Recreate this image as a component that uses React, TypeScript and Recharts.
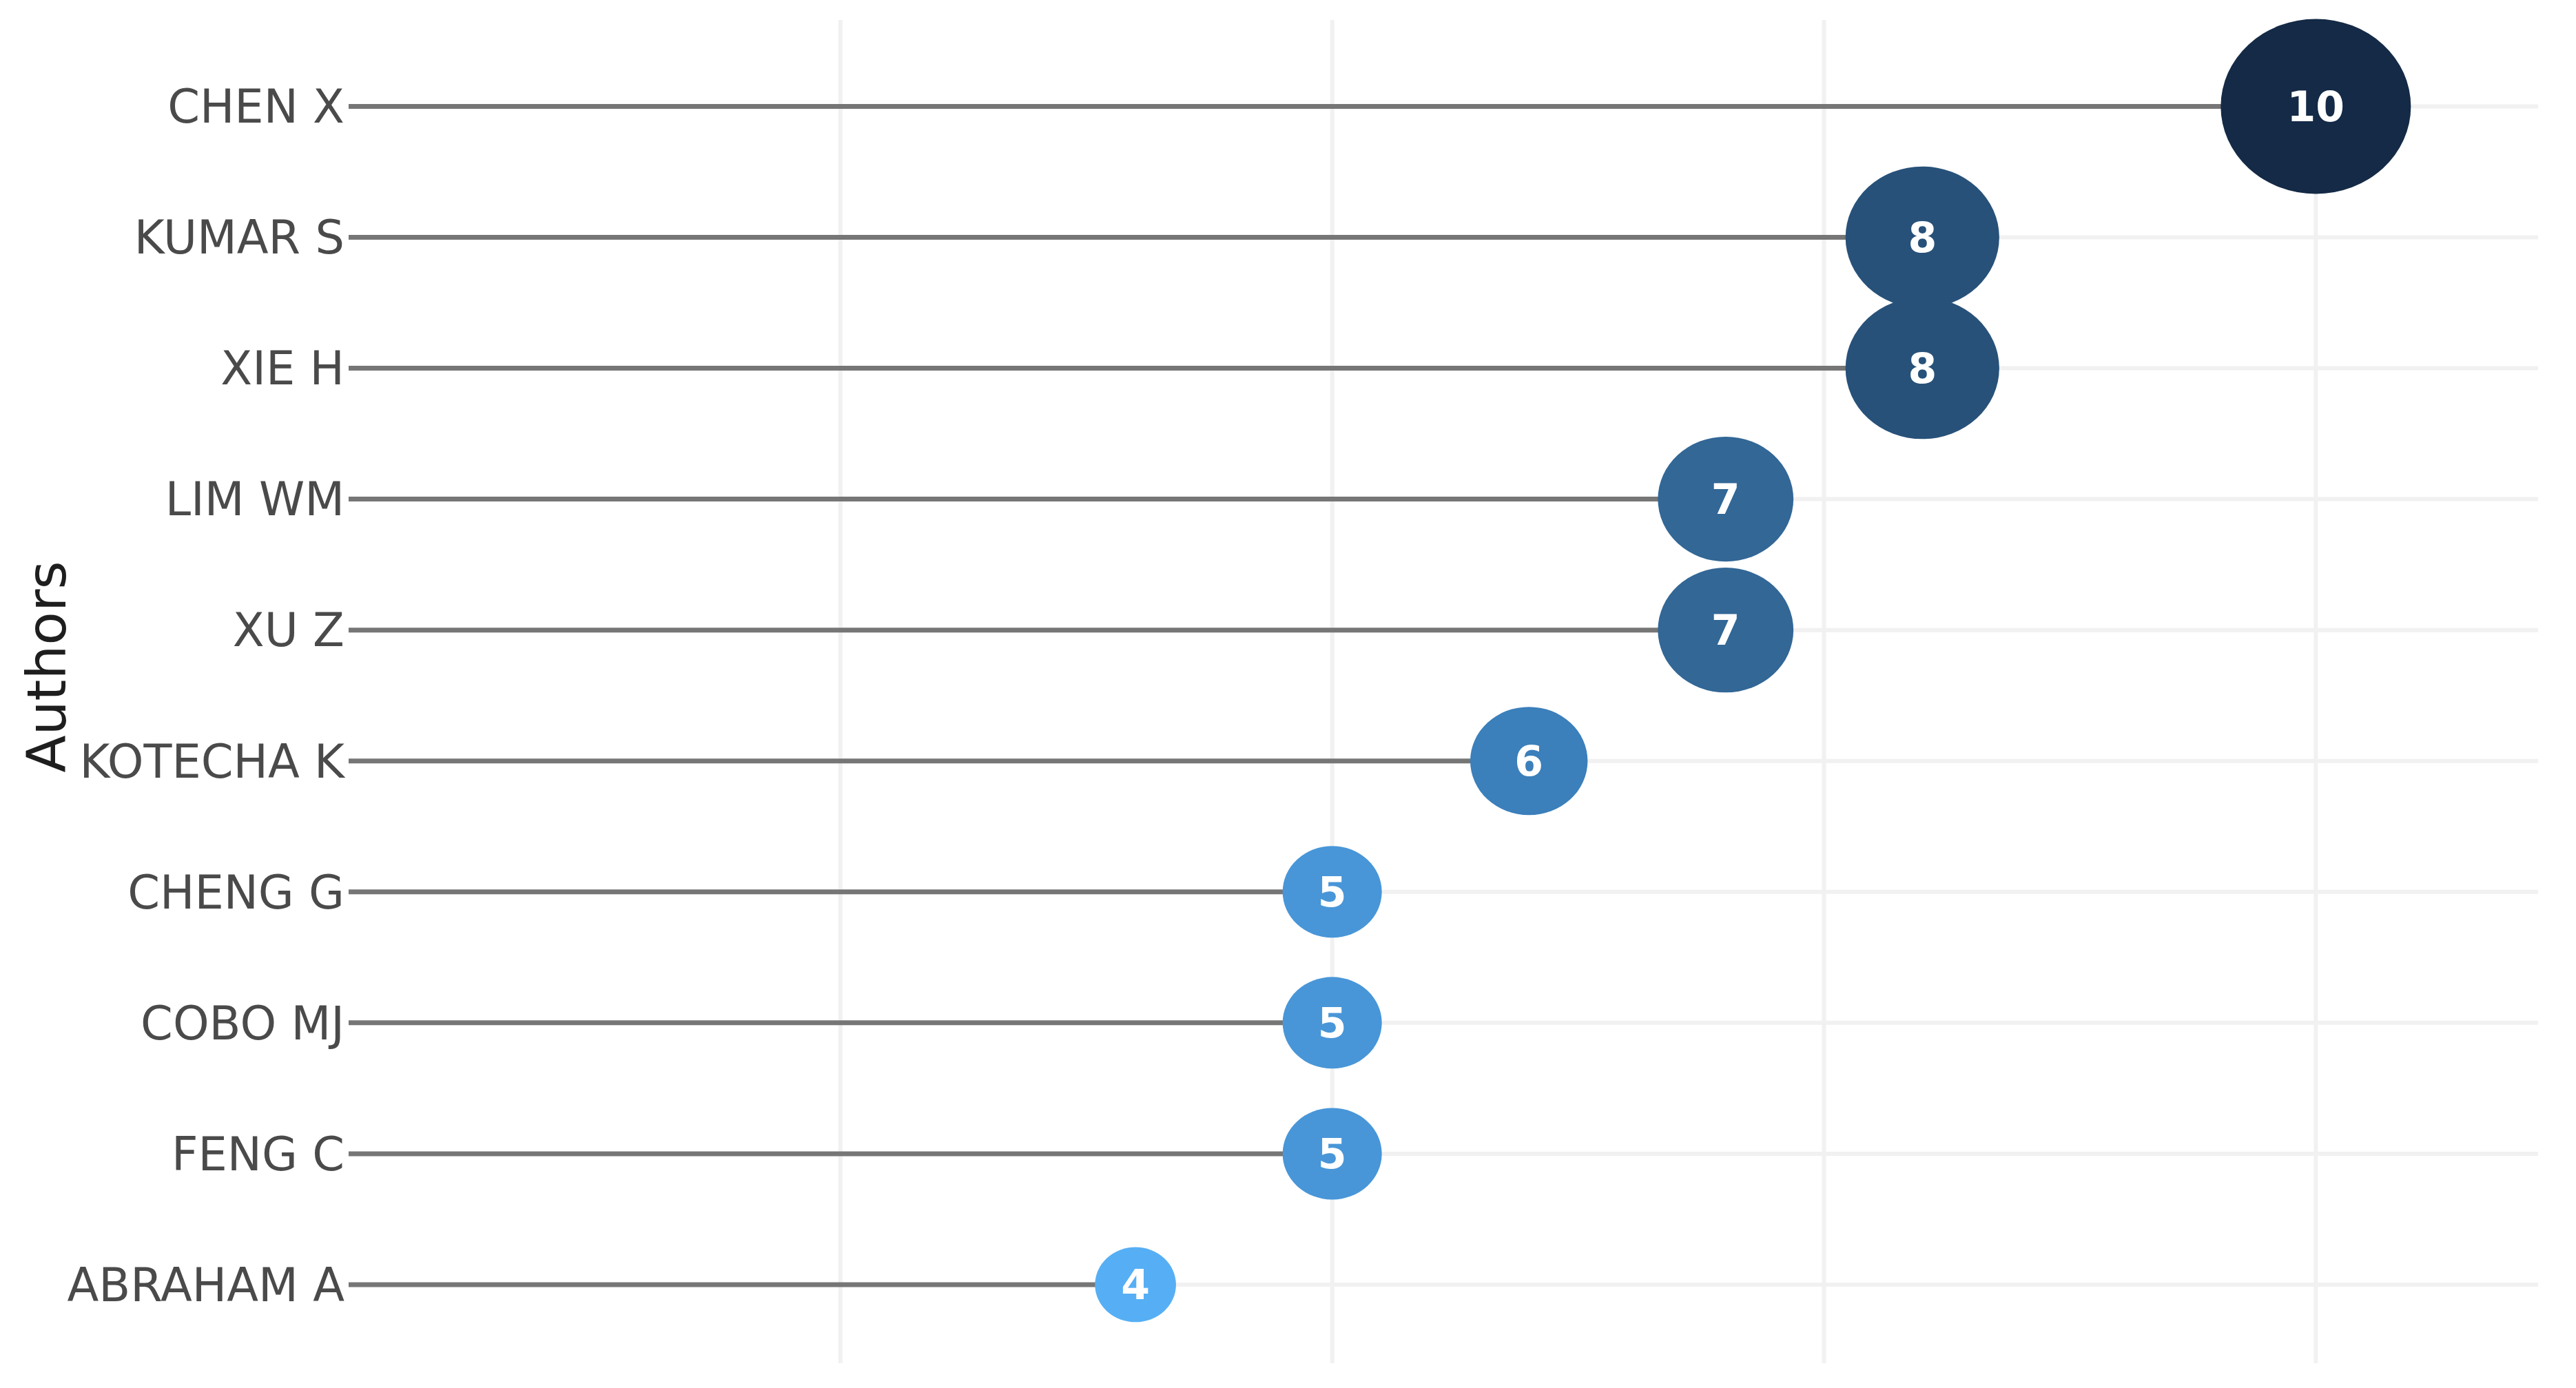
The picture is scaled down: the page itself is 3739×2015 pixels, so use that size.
import {
    CartesianGrid,
    LabelList,
    ReferenceLine,
    Scatter,
    ScatterChart,
    XAxis,
    YAxis,
} from "recharts";

// most productive authors, number of articles
const authors = [
    "CHEN X",
    "KUMAR S",
    "XIE H",
    "LIM WM",
    "XU Z",
    "KOTECHA K",
    "CHENG G",
    "COBO MJ",
    "FENG C",
    "ABRAHAM A",
];
const articles = [10, 8, 8, 7, 7, 6, 5, 5, 5, 4];

// colour scale: light blue for few articles, dark navy for many
const colorLevels = [4, 5, 6, 7, 8, 10];
const levelColors = ["#56aff4", "#4896d8", "#3b7fbb", "#326796", "#275179", "#142a46"];

const xTicks = [2.5, 5, 7.5, 10];
const rowTicks = authors.map((_, i) => i);

const data = authors.map((name, i) => ({
    name,
    row: i,
    value: articles[i],
    color: levelColors[colorLevels.indexOf(articles[i])],
}));

const FONT = "'DejaVu Sans', Verdana, sans-serif";

const Bubble = (props: any) => {
    const { cx, cy, payload } = props;
    const v = payload.value;
    return <ellipse cx={cx} cy={cy} rx={6 + 13.2 * v} ry={6 + 12.1 * v} fill={payload.color} />;
};

export default function App() {
    return (
        <div style={{ position: "absolute", left: 0, top: 0, background: "#fff" }}>
            <ScatterChart
                width={3739}
                height={2015}
                margin={{ top: 29, right: 55, bottom: 36, left: 0 }}
            >
                <CartesianGrid stroke="#f1f1f1" strokeWidth={6} syncWithTicks />
                <XAxis
                    type="number"
                    dataKey="value"
                    domain={[0, 11.13]}
                    ticks={xTicks}
                    hide
                />
                <YAxis
                    type="number"
                    dataKey="row"
                    domain={[-0.66, 9.6]}
                    reversed
                    ticks={rowTicks}
                    interval={0}
                    width={506}
                    axisLine={false}
                    tickLine={false}
                    tickSize={0}
                    tickMargin={6}
                    tickFormatter={(i: number) => authors[i] ?? ""}
                    tick={{ fontSize: 67, fill: "#4a4a4a", fontFamily: FONT }}
                    label={{
                        value: "Authors",
                        angle: -90,
                        position: "center",
                        dx: -186,
                        dy: -36,
                        style: { fontSize: 79, fill: "#1e1e1e", fontFamily: FONT },
                    }}
                />
                {data.map((d) => (
                    <ReferenceLine
                        key={d.name}
                        segment={[
                            { x: 0, y: d.row },
                            { x: d.value, y: d.row },
                        ]}
                        stroke="#767676"
                        strokeWidth={7}
                    />
                ))}
                <Scatter data={data} shape={<Bubble />} isAnimationActive={false}>
                    <LabelList
                        dataKey="value"
                        position="center"
                        fill="#fff"
                        style={{ fontSize: 60, fontWeight: "bold", fontFamily: FONT }}
                    />
                </Scatter>
            </ScatterChart>
        </div>
    );
}
